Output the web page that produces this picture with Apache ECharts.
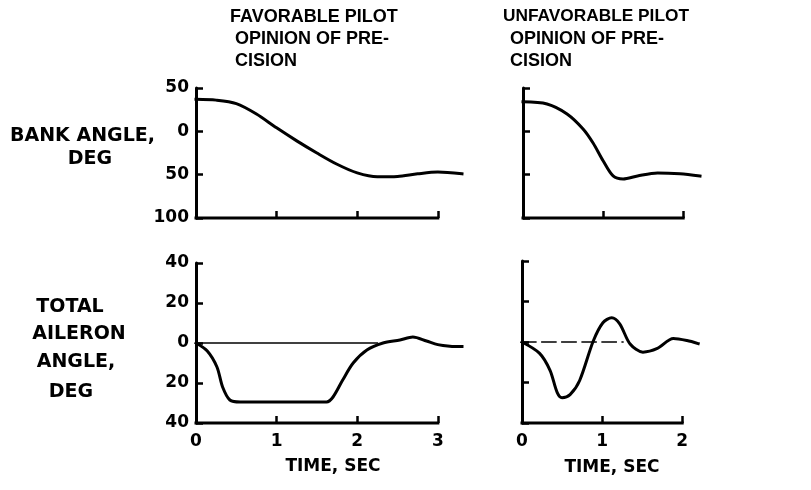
<!DOCTYPE html>
<html>
<head>
<meta charset="utf-8">
<script src="https://cdn.jsdelivr.net/npm/echarts@6/dist/echarts.min.js"></script>
<style>html,body{margin:0;padding:0;background:#fff}#c{width:811px;height:490px}</style>
</head>
<body>
<div id="c"></div>
<script>
// ---- data (time in sec, angles in deg) ----
var bankFavT = [0, 0.25, 0.5, 0.75, 1.0, 1.25, 1.5, 1.75, 2.0, 2.25, 2.5, 2.75, 3.0, 3.3];
var bankFavV = [37, 36, 32, 20, 4, -11, -25, -38, -48, -52.5, -52, -49, -47, -49];
var bankUnfT = [0, 0.3, 0.55, 0.75, 0.875, 1.0, 1.125, 1.25, 1.43, 1.68, 1.96, 2.21];
var bankUnfV = [34, 31.5, 20, 2.7, -13.5, -34, -51.5, -55, -51.5, -48, -49, -51.5];
var ailFavT = [0, 0.14, 0.26, 0.33, 0.42, 0.55, 0.88, 1.62, 1.70, 1.82, 1.95, 2.12, 2.32, 2.53, 2.69, 2.86, 3.0, 3.15, 3.30];
var ailFavV = [0, -4, -12, -22, -28.5, -29.5, -29.5, -29.5, -27, -18.5, -10, -3.5, 0, 1.5, 3, 1, -0.8, -1.6, -1.8];
var ailUnfT = [0, 0.22, 0.35, 0.44, 0.5, 0.6, 0.72, 0.89, 1.01, 1.12, 1.22, 1.35, 1.51, 1.69, 1.89, 2.06, 2.2];
var ailUnfV = [0, -5.6, -14, -25, -27.5, -26, -19, 0.5, 9.5, 12, 9, -1, -5, -3.2, 1.7, 0.7, -0.8];
var zeroFavT = [0, 2.25];
var zeroUnfT = [0, 1.26];
var bankTicks = [-100, 50, 50];     // min, max, interval
var ailTicks = [-40, 40, 20];
var timeFavTicks = [0, 1, 2, 3], timeUnfTicks = [0, 1, 2];
var timeFavEnd = 3.3, timeUnfEnd = 2.21;
var titleFav = ['FAVORABLE PILOT', 'OPINION OF PRE-', 'CISION'];
var titleUnf = ['UNFAVORABLE PILOT', 'OPINION OF PRE-', 'CISION'];
var bankLabel = ['BANK ANGLE,', 'DEG'];
var ailLabel = ['TOTAL', 'AILERON', 'ANGLE,', 'DEG'];
var timeLabel = 'TIME, SEC';

function pairs(t, v) { return t.map(function (x, i) { return [x, v[i]]; }); }
function last(a) { return a[a.length - 1]; }

var numFont = {fontFamily: 'DejaVu Sans', fontWeight: 'bold', fontSize: 17, color: '#000'};
var grids = [
  {left: 196, top: 88, width: 266, height: 130},
  {left: 523, top: 88, width: 177, height: 130},
  {left: 196, top: 263, width: 266, height: 160},
  {left: 522, top: 261, width: 177, height: 162}
];
function xAx(g, ticks, end, showLabel) {
  return {type: 'value', gridIndex: g, min: 0, max: end,
    axisLine: {show: false, onZero: false},
    axisTick: {inside: true, length: 7, customValues: ticks.slice(1), lineStyle: {color: '#000', width: 2.5}},
    splitLine: {show: false},
    axisLabel: Object.assign({show: showLabel, margin: 10, customValues: ticks}, numFont)};
}
function yAx(g, tk, showLabel) {
  return {type: 'value', gridIndex: g, min: tk[0], max: tk[1], interval: tk[2],
    axisLine: {onZero: false, lineStyle: {color: '#000', width: 3}},
    axisTick: {inside: true, length: 7, lineStyle: {color: '#000', width: 2.5}},
    splitLine: {show: false},
    axisLabel: Object.assign({show: showLabel, margin: 7, formatter: function (v) { return String(Math.abs(v)); }}, numFont)};
}
function curve(g, data, w, dashed) {
  return {type: 'line', xAxisIndex: g, yAxisIndex: g, data: data, showSymbol: false, smooth: 0.3,
    clip: false, silent: true,
    lineStyle: {color: '#000', width: w, type: dashed ? [14, 6] : 'solid', cap: 'square'}};
}
var graphics = [];
titleFav.forEach(function (s, i) { graphics.push({type: 'text', x: i === 0 ? 230 : 235, y: 8 + i * 22, style: {text: s, fill: '#000', font: 'bold 18px "Liberation Sans"'}}); });
titleUnf.forEach(function (s, i) { graphics.push({type: 'text', x: i === 0 ? 503 : 510, y: 8 + i * 22, style: {text: s, fill: '#000', font: 'bold ' + (i === 0 ? 17.3 : 18) + 'px "Liberation Sans"'}}); });
graphics.push({type: 'text', x: 10, y: 127, style: {text: bankLabel[0], fill: '#000', font: 'bold 19px "DejaVu Sans"'}});
graphics.push({type: 'text', x: 90, y: 150, style: {text: bankLabel[1], fill: '#000', font: 'bold 19px "DejaVu Sans"', textAlign: 'center'}});
var ailX = [70, 79, 76, 71], ailY = [298, 325, 353, 383];
ailLabel.forEach(function (s, i) { graphics.push({type: 'text', x: ailX[i], y: ailY[i], style: {text: s, fill: '#000', font: 'bold 19px "DejaVu Sans"', textAlign: 'center'}}); });
graphics.push({type: 'text', x: 333, y: 458, style: {text: timeLabel, fill: '#000', font: 'bold 17px "DejaVu Sans"', textAlign: 'center'}});
graphics.push({type: 'text', x: 612, y: 459, style: {text: timeLabel, fill: '#000', font: 'bold 17px "DejaVu Sans"', textAlign: 'center'}});

function baseLine(g, ticks, ymin) {
  return curve(g, [[0, ymin], [last(ticks), ymin]], 3);
}

var chart = echarts.init(document.getElementById('c'), null, {renderer: 'canvas'});
chart.setOption({
  animation: false,
  backgroundColor: '#fff',
  grid: grids,
  xAxis: [xAx(0, timeFavTicks, timeFavEnd, false), xAx(1, timeUnfTicks, timeUnfEnd, false),
          xAx(2, timeFavTicks, timeFavEnd, true), xAx(3, timeUnfTicks, timeUnfEnd, true)],
  yAxis: [yAx(0, bankTicks, true), yAx(1, bankTicks, false), yAx(2, ailTicks, true), yAx(3, ailTicks, false)],
  series: [
    baseLine(0, timeFavTicks, bankTicks[0]),
    baseLine(1, timeUnfTicks, bankTicks[0]),
    baseLine(2, timeFavTicks, ailTicks[0]),
    baseLine(3, timeUnfTicks, ailTicks[0]),
    curve(0, pairs(bankFavT, bankFavV), 3),
    curve(1, pairs(bankUnfT, bankUnfV), 3),
    curve(2, pairs(zeroFavT, [0, 0]), 1.5),
    curve(2, pairs(ailFavT, ailFavV), 3),
    curve(3, pairs(zeroUnfT, [0, 0]), 1.5, true),
    curve(3, pairs(ailUnfT, ailUnfV), 3)
  ],
  graphic: graphics
});
</script>
</body>
</html>
